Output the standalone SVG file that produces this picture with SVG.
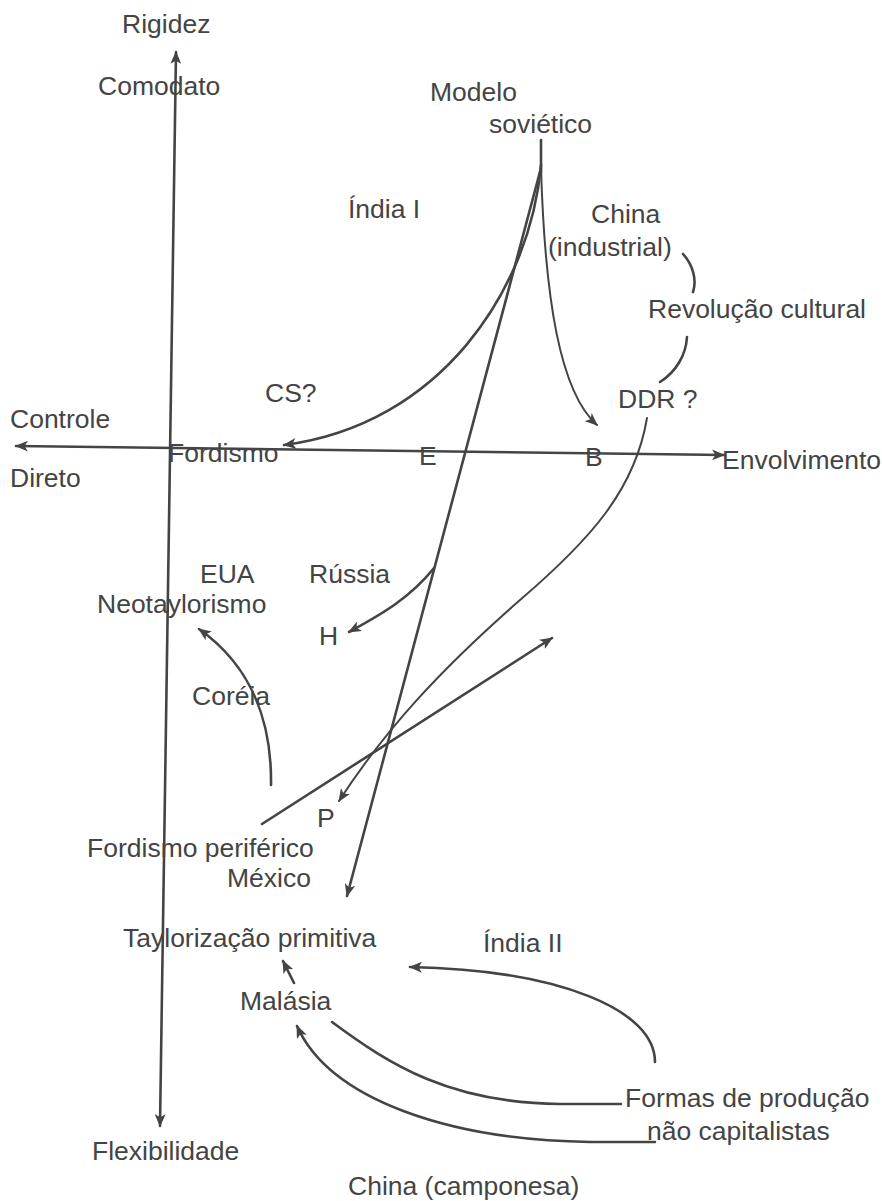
<svg xmlns="http://www.w3.org/2000/svg" width="882" height="1201" viewBox="0 0 882 1201">
<style>
  text { font-family: "Liberation Sans", Arial, sans-serif; font-size: 26.5px; fill: #444; }
  .ln { fill: none; stroke: #444; stroke-width: 2.6; stroke-linecap: round; }
  .thin { stroke-width: 2; }
</style>
<defs>
  <marker id="ah" viewBox="0 0 12 10" refX="11" refY="5" markerWidth="13" markerHeight="11" markerUnits="userSpaceOnUse" orient="auto">
    <path d="M0,0 L12,5 L0,10 L3,5 Z" fill="#444"/>
  </marker>
  <marker id="ahs" viewBox="0 0 12 10" refX="1" refY="5" markerWidth="13" markerHeight="11" markerUnits="userSpaceOnUse" orient="auto">
    <path d="M12,0 L0,5 L12,10 L9,5 Z" fill="#444"/>
  </marker>
</defs>
<rect width="882" height="1201" fill="#fff"/>

<g id="connectors">
  <!-- axes -->
  <line id="axis-v" class="ln" x1="160" y1="1126" x2="176" y2="52" marker-start="url(#ahs)" marker-end="url(#ah)"/>
  <line id="axis-h" class="ln" x1="16" y1="446" x2="724" y2="455" marker-start="url(#ahs)" marker-end="url(#ah)"/>
  <!-- soviet model -->
  <line class="ln" x1="541" y1="140" x2="541" y2="172"/>
  <path class="ln" d="M541,165 C530,290 440,425 284,445" marker-end="url(#ah)"/>
  <line class="ln" x1="541" y1="168" x2="347" y2="896" marker-end="url(#ah)"/>
  <path class="ln thin" d="M541,168 C545,300 560,392 597,425" marker-end="url(#ah)"/>
  <!-- Russia to H -->
  <path class="ln" d="M434,568 C410,598 382,614 349,632" marker-end="url(#ah)"/>
  <!-- DDR curve to P -->
  <path class="ln thin" d="M647,418 C635,490 590,540 520,600 C440,670 385,730 339,801" marker-end="url(#ah)"/>
  <!-- Fordismo periférico line -->
  <line class="ln" x1="262" y1="824" x2="552" y2="638" marker-end="url(#ah)"/>
  <!-- Coréia -->
  <path class="ln" d="M271,785 C272,720 250,665 199,629" marker-end="url(#ah)"/>
  <!-- brackets -->
  <path class="ln" d="M683,254 C693,265 697,280 693,292"/>
  <path class="ln" d="M687,337 C686,355 676,372 660,382"/>
  <!-- Malásia to Taylorização -->
  <line class="ln" x1="294" y1="983" x2="283" y2="961" marker-end="url(#ah)"/>
  <!-- Índia II -->
  <path class="ln" d="M655,1062 C655,1010 560,970 410,967" marker-end="url(#ah)"/>
  <!-- Malásia to Formas -->
  <path class="ln" d="M332,1022 C390,1065 450,1103 560,1104 L621,1104"/>
  <!-- China camponesa -->
  <path class="ln" d="M655,1142 L590,1142 C450,1140 330,1100 297,1026" marker-end="url(#ah)"/>
</g>

<g id="n-rigidez"><text x="122" y="33">Rigidez</text></g>
<g id="n-comodato"><text x="98" y="95">Comodato</text></g>
<g id="n-modelo"><text x="430" y="101">Modelo</text><text x="489" y="133">soviético</text></g>
<g id="n-india1"><text x="348" y="218">Índia I</text></g>
<g id="n-china-ind"><text x="591" y="223">China</text><text x="548" y="256">(industrial)</text></g>
<g id="n-revolucao"><text x="648" y="318">Revolução cultural</text></g>
<g id="n-ddr"><text x="618" y="408">DDR ?</text></g>
<g id="n-cs"><text x="265" y="402">CS?</text></g>
<g id="n-controle"><text x="10" y="428">Controle</text><text x="10" y="487">Direto</text></g>
<g id="n-fordismo"><text x="168" y="462">Fordismo</text></g>
<g id="n-e"><text x="419" y="465">E</text></g>
<g id="n-b"><text x="585" y="466">B</text></g>
<g id="n-envolvimento"><text x="722" y="469">Envolvimento</text></g>
<g id="n-eua"><text x="200" y="583">EUA</text><text x="97" y="613">Neotaylorismo</text></g>
<g id="n-russia"><text x="309" y="583">Rússia</text></g>
<g id="n-h"><text x="319" y="645">H</text></g>
<g id="n-coreia"><text x="192" y="705">Coréia</text></g>
<g id="n-p"><text x="317" y="827">P</text></g>
<g id="n-fordper"><text x="87" y="857">Fordismo periférico</text><text x="227" y="887">México</text></g>
<g id="n-taylor"><text x="123" y="947">Taylorização primitiva</text></g>
<g id="n-india2"><text x="483" y="952">Índia II</text></g>
<g id="n-malasia"><text x="240" y="1010">Malásia</text></g>
<g id="n-flex"><text x="92" y="1160">Flexibilidade</text></g>
<g id="n-china-camp"><text x="348" y="1195">China (camponesa)</text></g>
<g id="n-formas"><text x="625" y="1107">Formas de produção</text><text x="647" y="1140">não capitalistas</text></g>
</svg>
